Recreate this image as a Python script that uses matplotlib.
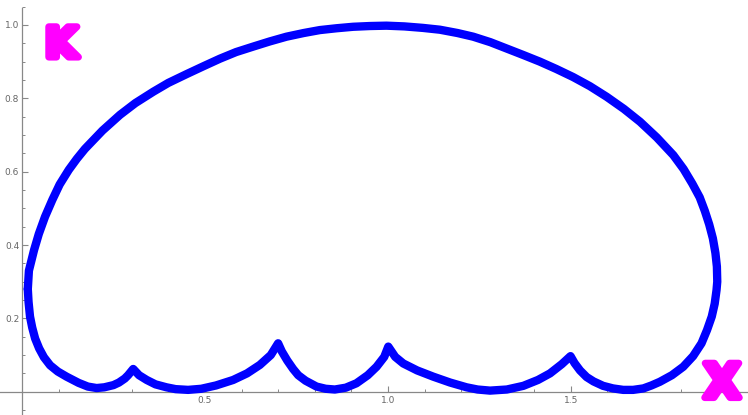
import matplotlib

matplotlib.use("Agg")
import matplotlib.pyplot as plt
import matplotlib.patheffects as pe
from matplotlib.ticker import MultipleLocator, FixedLocator

# closed curve (clockwise from the left edge)
curve_x = [
    0.016, 0.019, 0.033, 0.046, 0.063, 0.083, 0.103, 0.128, 0.150, 0.172,
    0.220, 0.268, 0.310, 0.359, 0.400, 0.450, 0.495, 0.541, 0.585, 0.632,
    0.677, 0.723, 0.770, 0.814, 0.860, 0.905, 0.950, 0.996, 1.045, 1.095,
    1.142, 1.190, 1.233, 1.280, 1.324, 1.370, 1.415, 1.460, 1.506, 1.552,
    1.598, 1.645, 1.689, 1.735, 1.780, 1.808, 1.832, 1.852, 1.866, 1.878,
    1.888, 1.895, 1.899, 1.900, 1.898, 1.893, 1.885, 1.872, 1.857, 1.834,
    1.807, 1.776, 1.743, 1.720, 1.698, 1.670, 1.643, 1.615, 1.588, 1.562,
    1.543, 1.525, 1.510, 1.499, 1.475, 1.443, 1.410, 1.370, 1.325, 1.279,
    1.245, 1.215, 1.170, 1.124, 1.080, 1.042, 1.020, 1.001, 0.990, 0.969,
    0.945, 0.914, 0.885, 0.855, 0.830, 0.805, 0.775, 0.755, 0.741, 0.725,
    0.710, 0.700, 0.680, 0.650, 0.615, 0.577, 0.530, 0.490, 0.454, 0.420,
    0.395, 0.365, 0.341, 0.320, 0.304, 0.290, 0.281, 0.265, 0.250, 0.225,
    0.204, 0.180, 0.155, 0.122, 0.098, 0.077, 0.060, 0.047, 0.036, 0.028,
    0.022, 0.018, 0.016,
]
curve_y = [
    0.280, 0.330, 0.386, 0.430, 0.477, 0.523, 0.565, 0.605, 0.635, 0.662,
    0.712, 0.755, 0.787, 0.818, 0.842, 0.866, 0.887, 0.908, 0.926, 0.941,
    0.955, 0.968, 0.978, 0.986, 0.991, 0.995, 0.997, 0.998, 0.996, 0.992,
    0.987, 0.978, 0.968, 0.953, 0.936, 0.918, 0.900, 0.880, 0.858, 0.833,
    0.804, 0.771, 0.736, 0.693, 0.645, 0.607, 0.567, 0.530, 0.493, 0.456,
    0.418, 0.378, 0.341, 0.300, 0.277, 0.240, 0.205, 0.168, 0.132, 0.097,
    0.068, 0.045, 0.027, 0.017, 0.009, 0.005, 0.005, 0.009, 0.016, 0.028,
    0.040, 0.058, 0.078, 0.097, 0.075, 0.050, 0.032, 0.016, 0.006, 0.003,
    0.006, 0.012, 0.025, 0.041, 0.058, 0.077, 0.095, 0.123, 0.095, 0.068,
    0.045, 0.023, 0.011, 0.006, 0.008, 0.014, 0.030, 0.045, 0.062, 0.085,
    0.110, 0.132, 0.100, 0.073, 0.050, 0.032, 0.017, 0.008, 0.005, 0.007,
    0.012, 0.020, 0.032, 0.045, 0.062, 0.045, 0.036, 0.025, 0.018, 0.012,
    0.010, 0.014, 0.024, 0.041, 0.055, 0.072, 0.094, 0.118, 0.145, 0.175,
    0.205, 0.245, 0.280,
]

x_labels = [0.5, 1.0, 1.5]
y_labels = [0.2, 0.4, 0.6, 0.8, 1.0]

fig = plt.figure(figsize=(7.48, 4.15), dpi=100)
ax = fig.add_axes([0, 0, 1, 1])
ax.set_xlim(-0.060, 1.984)
ax.set_ylim(-0.0635, 1.068)

ax.plot(curve_x, curve_y, color="#0000ff", linewidth=6.0,
        solid_joinstyle="round", solid_capstyle="round", zorder=3)

# Mathematica-style axes crossing at the origin
for side in ("top", "right"):
    ax.spines[side].set_visible(False)
for side in ("left", "bottom"):
    ax.spines[side].set_position(("data", 0))
    ax.spines[side].set_color("#888888")
    ax.spines[side].set_linewidth(0.9)
ax.spines["left"].set_bounds(-0.0635, 1.046)

ax.xaxis.set_major_locator(FixedLocator(x_labels))
ax.xaxis.set_minor_locator(MultipleLocator(0.1))
ax.yaxis.set_major_locator(FixedLocator(y_labels))
ax.yaxis.set_minor_locator(MultipleLocator(0.05))
ax.set_xticklabels([f"{v:.1f}" for v in x_labels])
ax.set_yticklabels([f"{v:.1f}" for v in y_labels])
ax.tick_params(which="both", direction="in", color="#888888", labelcolor="#666666",
               labelsize=6.5)
ax.tick_params(which="major", length=4, width=0.8)
ax.tick_params(which="minor", length=2.5, width=0.7)
ax.tick_params(axis="x", pad=3)
ax.tick_params(axis="y", pad=2)

# hand-drawn axis names
blob = [pe.Stroke(linewidth=5, foreground="#ff00ff", joinstyle="round",
                  capstyle="round"), pe.Normal()]
ax.text(0.107, 0.945, "K", color="#ff00ff", fontsize=30, fontweight="bold",
        ha="center", va="center", path_effects=blob, zorder=4)
ax.text(1.913, 0.018, "X", color="#ff00ff", fontsize=34, fontweight="bold",
        ha="center", va="center", path_effects=blob, zorder=4, clip_on=False)

fig.savefig("out.png", dpi=100)
